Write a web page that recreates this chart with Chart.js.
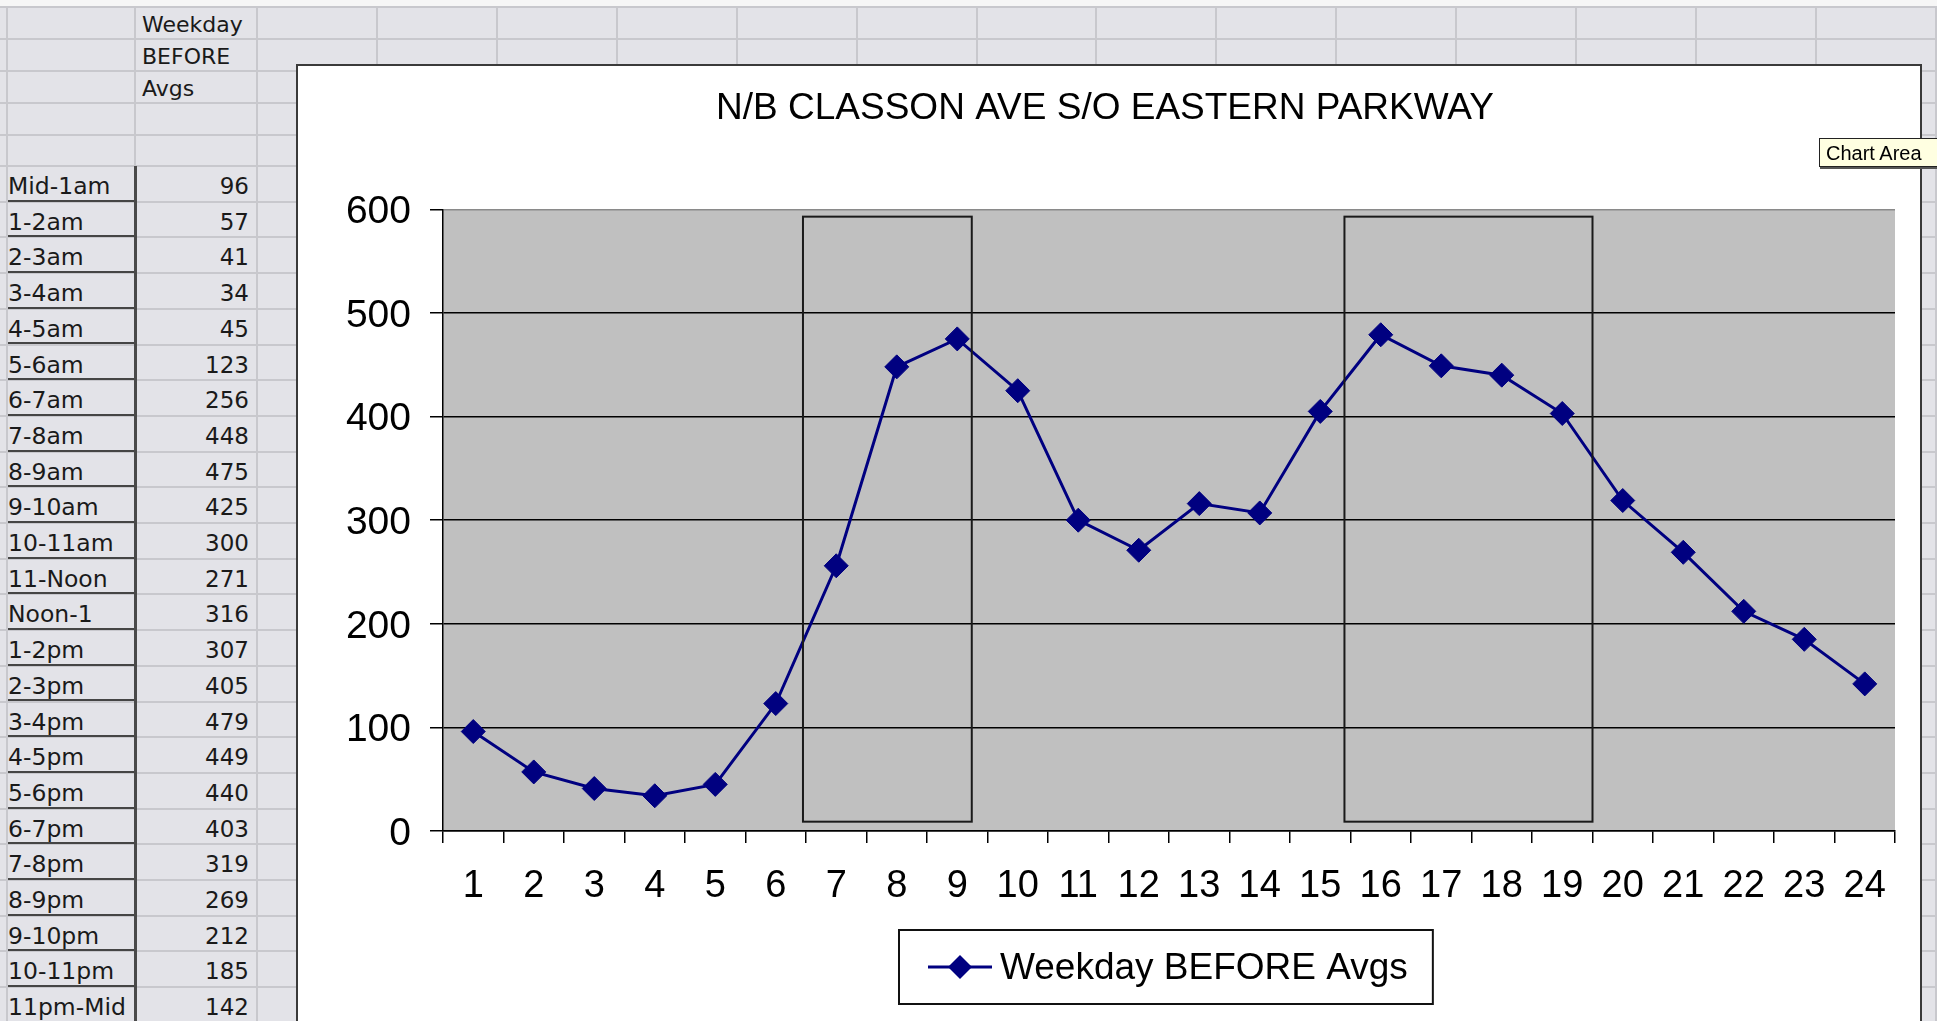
<!DOCTYPE html>
<html>
<head>
<meta charset="utf-8">
<script src="https://cdn.jsdelivr.net/npm/chart.js@4.4.1/dist/chart.umd.min.js"></script>
<style>
  html, body { margin:0; padding:0; }
  body { width:1937px; height:1021px; overflow:hidden; background:#e3e3e8; position:relative; font-family:"DejaVu Sans", sans-serif; }
  #topstrip { position:absolute; left:0; top:0; width:1937px; height:7px; background:#f6f6f6; }
  .hl { position:absolute; left:0; width:1937px; height:2px; background:#c8c8cd; }
  .vl { position:absolute; top:7px; width:2px; height:1014px; background:#c8c8cd; }
  .cellA { position:absolute; left:8px; width:126px; height:35.7px; line-height:35.7px; padding-top:3px; font-size:23.5px; color:#1a1a1a; white-space:nowrap; box-sizing:border-box; border-bottom:2px solid #454545; }
  .cellB { position:absolute; left:137px; width:112px; height:35.7px; line-height:35.7px; padding-top:3px; box-sizing:border-box; font-size:23px; color:#1a1a1a; text-align:right; white-space:nowrap; }
  .head { position:absolute; left:142px; font-size:22px; color:#1a1a1a; height:32px; line-height:32px; white-space:nowrap; }
  #chartBox { position:absolute; left:296px; top:64px; width:1622px; height:970px; background:#fff; border:2px solid #3a3a3a; }
  #chartBox canvas { position:absolute; left:0; top:0; }
  #tip { position:absolute; left:1819px; top:138px; width:130px; height:29px; background:#ffffe1; border:1px solid #222; box-shadow:1px 2px 0 #555; font-family:"Liberation Sans", Arial, sans-serif; font-size:20px; line-height:29px; padding-left:6px; box-sizing:border-box; color:#000; white-space:nowrap; }
</style>
</head>
<body>
<div id="topstrip"></div>
<div id="sheet"></div>
<div id="chartBox"><canvas id="c" width="1622" height="957"></canvas></div>
<div id="tip">Chart Area</div>
<script>
// ---------- data ----------
const chartTitle = 'N/B CLASSON AVE S/O EASTERN PARKWAY';
const seriesName = 'Weekday BEFORE Avgs';
const headerLines = ['Weekday', 'BEFORE', 'Avgs'];
const hourLabels = ['Mid-1am','1-2am','2-3am','3-4am','4-5am','5-6am','6-7am','7-8am','8-9am','9-10am','10-11am','11-Noon',
                    'Noon-1','1-2pm','2-3pm','3-4pm','4-5pm','5-6pm','6-7pm','7-8pm','8-9pm','9-10pm','10-11pm','11pm-Mid'];
const xTickLabels = ['1','2','3','4','5','6','7','8','9','10','11','12','13','14','15','16','17','18','19','20','21','22','23','24'];
const weekdayBeforeAvgs = [96,57,41,34,45,123,256,448,475,425,300,271,316,307,405,479,449,440,403,319,269,212,185,142];
const yMin = 0, yMax = 600, yStep = 100;
// peak-period highlight boxes, in category-index units and value units
const peakPeriodsX = [[5.45, 8.24], [14.4, 18.5]];
const peakPeriodsY = [9, 593];

// ---------- spreadsheet background ----------
const sheet = document.getElementById('sheet');
function el(cls, css, text) {
  const d = document.createElement('div');
  d.className = cls;
  Object.assign(d.style, css);
  if (text !== undefined) d.textContent = text;
  sheet.appendChild(d);
  return d;
}
const rowH = 35.7, dataTop = 166;
[7, 39, 71, 103, 134.5, 166].forEach(y => el('hl', {top: (y - 1) + 'px'}));
for (let k = 1; k <= hourLabels.length; k++) el('hl', {top: (dataTop + k * rowH - 1) + 'px'});
[7, 135, 257].forEach(x => el('vl', {left: (x - 1) + 'px'}));
for (let x = 377; x < 1937; x += 119.9) el('vl', {left: (x - 1) + 'px'});
headerLines.forEach((t, i) => el('head', {top: (9 + i * 32) + 'px'}, t));
hourLabels.forEach((t, i) => {
  el('cellA', {top: (dataTop + i * rowH) + 'px'}, t);
  el('cellB', {top: (dataTop + i * rowH) + 'px'}, String(weekdayBeforeAvgs[i]));
});
el('', {position:'absolute', left:'134px', top:'166px', width:'3px', height:'860px', background:'#4a4a4a'});

// ---------- chart ----------
const FONT = '"Liberation Sans", Arial, sans-serif';
const navy = '#000080';

const plotBg = {
  id: 'plotBg',
  beforeDraw(chart) {
    const {ctx, chartArea: a} = chart;
    ctx.save();
    ctx.fillStyle = '#c0c0c0';
    ctx.fillRect(a.left, a.top, a.right - a.left, a.bottom - a.top);
    ctx.restore();
  }
};

const peakBoxes = {
  id: 'peakBoxes',
  afterDatasetsDraw(chart) {
    const {ctx, scales: {x, y}} = chart;
    ctx.save();
    ctx.strokeStyle = '#1a1a1a';
    ctx.lineWidth = 2;
    peakPeriodsX.forEach(([x0, x1]) => {
      const px0 = x.getPixelForValue(x0), px1 = x.getPixelForValue(x1);
      const py0 = y.getPixelForValue(peakPeriodsY[1]), py1 = y.getPixelForValue(peakPeriodsY[0]);
      ctx.strokeRect(px0, py0, px1 - px0, py1 - py0);
    });
    ctx.restore();
  }
};

const legendBox = {
  id: 'legendBox',
  afterDraw(chart) {
    const {ctx, chartArea: a} = chart;
    const ds = chart.data.datasets[0];
    ctx.save();
    ctx.font = '37px ' + FONT;
    const tw = ctx.measureText(ds.label).width;
    const padL = 29, sym = 64, gap = 8, padR = 25, h = 74;
    const w = padL + sym + gap + tw + padR;
    const x0 = Math.round((a.left + a.right) / 2 - 3 - w / 2);
    const y0 = Math.round(a.bottom + 99);
    ctx.fillStyle = '#fff';
    ctx.fillRect(x0, y0, w, h);
    ctx.strokeStyle = '#111';
    ctx.lineWidth = 2;
    ctx.strokeRect(x0, y0, w, h);
    const cy = y0 + h / 2;
    ctx.strokeStyle = ds.borderColor;
    ctx.lineWidth = ds.borderWidth;
    ctx.beginPath();
    ctx.moveTo(x0 + padL, cy);
    ctx.lineTo(x0 + padL + sym, cy);
    ctx.stroke();
    const cx = x0 + padL + sym / 2, r = ds.pointRadius;
    ctx.fillStyle = ds.pointBackgroundColor;
    ctx.beginPath();
    ctx.moveTo(cx, cy - r); ctx.lineTo(cx + r, cy); ctx.lineTo(cx, cy + r); ctx.lineTo(cx - r, cy);
    ctx.closePath();
    ctx.fill();
    ctx.fillStyle = '#000';
    ctx.textBaseline = 'middle';
    ctx.textAlign = 'left';
    ctx.fillText(ds.label, x0 + padL + sym + gap, cy + 2);
    ctx.restore();
  }
};

new Chart(document.getElementById('c'), {
  type: 'line',
  data: {
    labels: xTickLabels,
    datasets: [{
      label: seriesName,
      data: weekdayBeforeAvgs,
      borderColor: navy,
      backgroundColor: navy,
      borderWidth: 3,
      pointStyle: 'rectRot',
      pointRadius: 12,
      pointHoverRadius: 12,
      pointBackgroundColor: navy,
      pointBorderColor: navy,
      pointBorderWidth: 1,
      tension: 0,
      fill: false
    }]
  },
  options: {
    responsive: false,
    animation: false,
    events: [],
    layout: { padding: { left: 17, right: 25, top: 0, bottom: 0 } },
    plugins: {
      legend: { display: false },
      tooltip: { enabled: false },
      title: {
        display: true,
        text: chartTitle,
        color: '#000',
        font: { family: FONT, size: 37, weight: 'normal', lineHeight: 1.2 },
        padding: { top: 21, bottom: 78 }
      }
    },
    scales: {
      x: {
        type: 'category',
        offset: true,
        afterFit(s) { s.height = 192; },
        grid: { offset: true, drawOnChartArea: false, drawTicks: true, tickLength: 12, color: '#000', tickColor: '#000', lineWidth: 1.5, tickWidth: 1.5 },
        border: { display: true, color: '#000', width: 1.5 },
        ticks: { color: '#000', font: { family: FONT, size: 38 }, padding: 21, maxRotation: 0, autoSkip: false }
      },
      y: {
        min: yMin, max: yMax,
        afterFit(s) { s.width = 128; },
        grid: {
          drawTicks: true, tickLength: 13,
          color: ctx => (ctx.tick && ctx.tick.value === yMax) ? '#8a8a8a' : '#000',
          tickColor: '#000', lineWidth: 1.5, tickWidth: 1.5
        },
        border: { display: true, color: '#000', width: 1.5 },
        ticks: { stepSize: yStep, color: '#000', font: { family: FONT, size: 39 }, padding: 19, labelOffset: 3 }
      }
    }
  },
  plugins: [plotBg, peakBoxes, legendBox]
});
</script>
</body>
</html>
